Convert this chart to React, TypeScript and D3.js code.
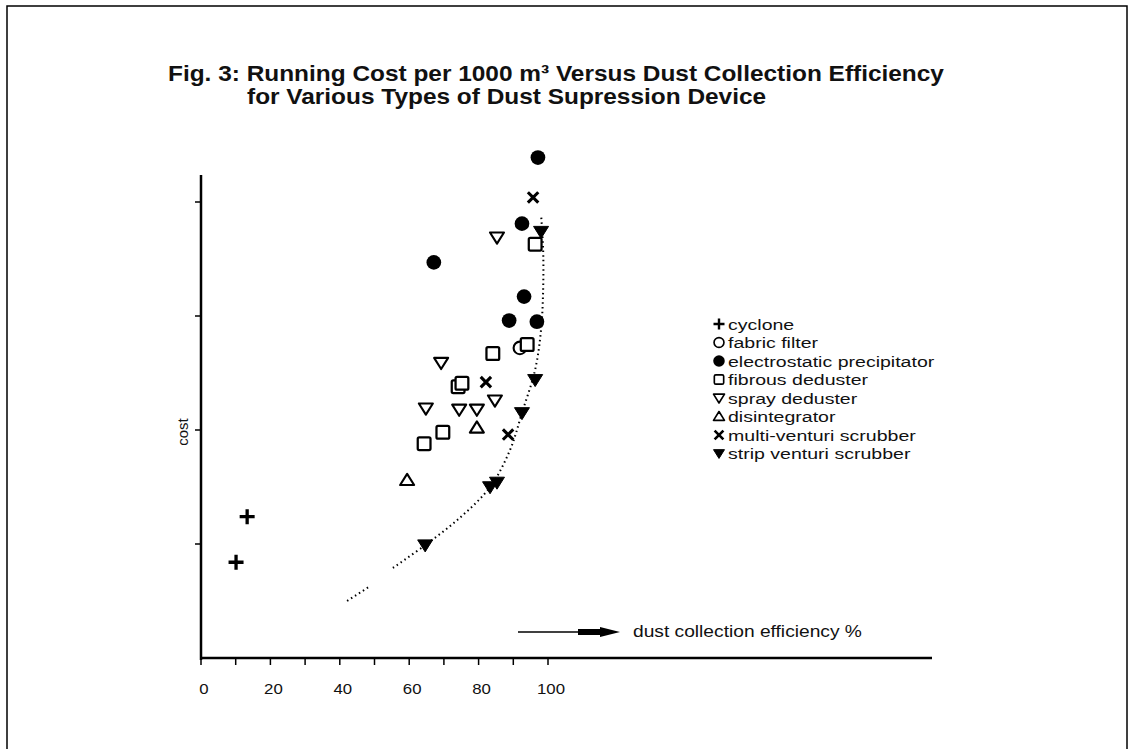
import * as d3 from 'd3';
import { useEffect, useRef } from 'react';

// values: [efficiency %, cost (tick units)]
const cyclone = [[13.3, 1.24], [10.1, 0.84]];
const fabricFilter = [[91.9, 2.72]];
const electrostatic = [[97.1, 4.39], [92.5, 3.81], [67.1, 3.47], [93.1, 3.17], [88.8, 2.96], [96.8, 2.95]];
const fibrous = [[96.3, 3.63], [94.0, 2.75], [84.1, 2.67], [74.1, 2.38], [75.2, 2.41], [69.7, 1.98], [64.3, 1.88]];
const spray = [[85.3, 3.69], [69.2, 2.59], [84.7, 2.26], [64.8, 2.19], [74.4, 2.18], [79.5, 2.18]];
const disintegrator = [[79.5, 2.02], [59.4, 1.56]];
const multiVenturi = [[95.7, 4.04], [82.1, 2.42], [88.5, 1.96]];
const stripVenturi = [[98.0, 3.74], [96.3, 2.44], [92.5, 2.15], [85.3, 1.54], [83.3, 1.50], [64.6, 0.99]];

// dotted trend line, drawn in two pieces (gap in the original)
const trendLow = [[42.1, 0.50], [48.7, 0.63]];
const trendHigh = [[55.3, 0.79], [64.6, 0.99], [74.6, 1.23], [83.3, 1.50], [89.0, 1.82], [92.5, 2.15],
  [96.3, 2.53], [98.0, 2.88], [98.6, 3.23], [98.6, 3.58], [98.0, 3.89]];

const xTicks = [0, 10, 20, 30, 40, 50, 60, 70, 80, 90, 100];
const xLabels = [0, 20, 40, 60, 80, 100];
const yTicks = [1, 2, 3, 4];

const legendItems = [
  { kind: 'plus', label: 'cyclone' },
  { kind: 'circle', label: 'fabric filter' },
  { kind: 'dot', label: 'electrostatic precipitator' },
  { kind: 'square', label: 'fibrous deduster' },
  { kind: 'tridown', label: 'spray deduster' },
  { kind: 'triup', label: 'disintegrator' },
  { kind: 'cross', label: 'multi-venturi scrubber' },
  { kind: 'tridownFill', label: 'strip venturi scrubber' },
];

const FONT = 'Liberation Sans, Arial, Helvetica, sans-serif';

function marker(g: any, kind: string, cx: number, cy: number, s: number) {
  const h = s / 2;
  if (kind === 'plus') {
    g.append('path').attr('d', `M${cx - h},${cy}H${cx + h}M${cx},${cy - h}V${cy + h}`)
      .attr('stroke', '#000').attr('stroke-width', s * 0.22);
  } else if (kind === 'cross') {
    const k = h * 0.8;
    g.append('path').attr('d', `M${cx - k},${cy - k}L${cx + k},${cy + k}M${cx - k},${cy + k}L${cx + k},${cy - k}`)
      .attr('stroke', '#000').attr('stroke-width', s * 0.24);
  } else if (kind === 'circle') {
    g.append('circle').attr('cx', cx).attr('cy', cy).attr('r', h * 0.9)
      .attr('fill', '#fff').attr('stroke', '#000').attr('stroke-width', s * 0.15);
  } else if (kind === 'dot') {
    g.append('circle').attr('cx', cx).attr('cy', cy).attr('r', h * 1.05).attr('fill', '#000');
  } else if (kind === 'square') {
    const k = h * 0.85;
    g.append('rect').attr('x', cx - k).attr('y', cy - k).attr('width', 2 * k).attr('height', 2 * k)
      .attr('rx', 1.5).attr('fill', '#fff').attr('stroke', '#000').attr('stroke-width', s * 0.15);
  } else if (kind === 'tridown' || kind === 'tridownFill') {
    const fill = kind === 'tridownFill';
    g.append('path').attr('d', `M${cx - h},${cy - h * 0.7}L${cx + h},${cy - h * 0.7}L${cx},${cy + h * 0.9}Z`)
      .attr('fill', fill ? '#000' : '#fff').attr('stroke', '#000').attr('stroke-width', fill ? 1 : s * 0.15)
      .attr('stroke-linejoin', 'round');
  } else if (kind === 'triup') {
    g.append('path').attr('d', `M${cx - h},${cy + h * 0.7}L${cx + h},${cy + h * 0.7}L${cx},${cy - h * 0.9}Z`)
      .attr('fill', '#fff').attr('stroke', '#000').attr('stroke-width', s * 0.15)
      .attr('stroke-linejoin', 'round');
  }
}

// the scanned lettering is wider than Arial, so stretch it sideways
function wideText(g: any, x: number, y: number, sx: number, size: number, txt: string, bold = false) {
  return g.append('text').attr('transform', `translate(${x},${y}) scale(${sx},1)`)
    .attr('font-family', FONT).attr('font-size', size).attr('font-weight', bold ? 'bold' : 'normal')
    .attr('fill', '#111').text(txt);
}

export default function App() {
  const ref = useRef<SVGSVGElement>(null);

  useEffect(() => {
    const svg = d3.select(ref.current);
    svg.selectAll('*').remove();

    const x = d3.scaleLinear().domain([0, 100]).range([201, 548]);
    const y = d3.scaleLinear().domain([0, 4]).range([658, 202]);

    // page frame
    svg.append('rect').attr('x', 7).attr('y', 6).attr('width', 1120).attr('height', 780)
      .attr('fill', 'none').attr('stroke', '#000').attr('stroke-width', 1.5);

    // title
    wideText(svg, 168, 81, 1.11, 22, 'Fig. 3: Running Cost per 1000 m³ Versus Dust Collection Efficiency', true);
    wideText(svg, 247, 104, 1.11, 22, 'for Various Types of Dust Supression Device', true);

    // axes
    svg.append('line').attr('x1', x(0)).attr('x2', 932).attr('y1', y(0)).attr('y2', y(0))
      .attr('stroke', '#000').attr('stroke-width', 2.5);
    svg.append('line').attr('x1', x(0)).attr('x2', x(0)).attr('y1', y(0) + 2).attr('y2', 175)
      .attr('stroke', '#000').attr('stroke-width', 2.5);

    svg.append('g').selectAll('line').data(xTicks).join('line')
      .attr('x1', d => x(d)).attr('x2', d => x(d)).attr('y1', y(0)).attr('y2', y(0) + 7)
      .attr('stroke', '#000').attr('stroke-width', 1.5);
    svg.append('g').selectAll('text').data(xLabels).join('text')
      .attr('transform', d => `translate(${x(d) + 3},694) scale(1.12,1)`).attr('text-anchor', 'middle')
      .attr('font-family', FONT).attr('font-size', 15).attr('fill', '#111')
      .text(d => d);

    svg.append('g').selectAll('line').data(yTicks).join('line')
      .attr('x1', x(0) - 6).attr('x2', x(0)).attr('y1', d => y(d)).attr('y2', d => y(d))
      .attr('stroke', '#000').attr('stroke-width', 1.5);

    svg.append('text').attr('transform', `translate(188,432) rotate(-90)`)
      .attr('text-anchor', 'middle').attr('font-family', FONT).attr('font-size', 15).attr('fill', '#111')
      .text('cost');

    // efficiency arrow
    svg.append('line').attr('x1', 518).attr('x2', 580).attr('y1', 632).attr('y2', 632)
      .attr('stroke', '#000').attr('stroke-width', 1.5);
    svg.append('path').attr('d', 'M578,629L600,629L600,627L620,632L600,637L600,635L578,635Z')
      .attr('fill', '#000');
    wideText(svg, 633, 637, 1.2, 16, 'dust collection efficiency %');

    // trend
    const line = d3.line<number[]>().x(d => x(d[0])).y(d => y(d[1])).curve(d3.curveCatmullRom);
    [trendLow, trendHigh].forEach(seg => {
      svg.append('path').attr('d', line(seg)).attr('fill', 'none').attr('stroke', '#000')
        .attr('stroke-width', 2).attr('stroke-dasharray', '1.5 3.2');
    });

    // points
    const pts = svg.append('g');
    const series: [number[][], string, number][] = [
      [cyclone, 'plus', 15],
      [electrostatic, 'dot', 14],
      [fabricFilter, 'circle', 14],
      [fibrous, 'square', 15],
      [spray, 'tridown', 14],
      [disintegrator, 'triup', 14],
      [multiVenturi, 'cross', 13],
      [stripVenturi, 'tridownFill', 15],
    ];
    series.forEach(([data, kind, size]) => {
      data.forEach(d => marker(pts, kind, x(d[0]), y(d[1]), size));
    });

    // legend
    const lg = svg.append('g');
    legendItems.forEach((it, i) => {
      const cy = 324 + i * 18.5;
      marker(lg, it.kind, 719, cy, 11);
      wideText(lg, 728, cy + 5.5, 1.32, 14.8, it.label);
    });
  }, []);

  return (
    <svg ref={ref} width={1129} height={749}
      style={{ position: 'fixed', left: 0, top: 0, background: '#fff' }} />
  );
}
